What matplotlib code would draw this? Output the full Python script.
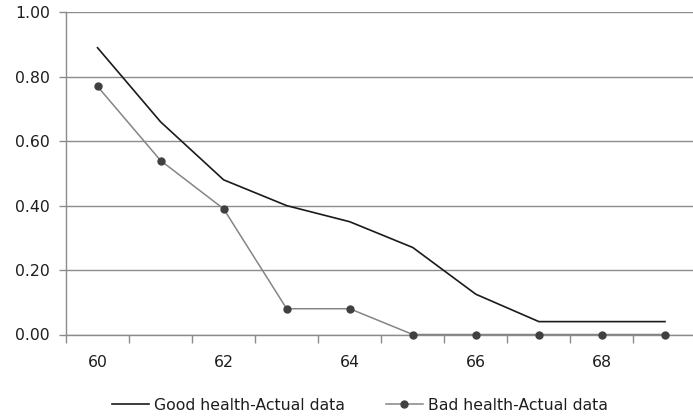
import matplotlib
matplotlib.use('Agg')
import matplotlib.pyplot as plt
from matplotlib.ticker import FixedLocator, FormatStrFormatter

ages = [60, 61, 62, 63, 64, 65, 66, 67, 68, 69]
good_health = [0.89, 0.66, 0.48, 0.40, 0.35, 0.27, 0.125, 0.04, 0.04, 0.04]
bad_health = [0.77, 0.54, 0.39, 0.08, 0.08, 0.0, 0.0, 0.0, 0.0, 0.0]
y_ticks = [0.0, 0.2, 0.4, 0.6, 0.8, 1.0]

plt.rcParams['font.family'] = ['DejaVu Sans']

fig = plt.figure(figsize=(6.93, 4.19), dpi=100)
ax = fig.add_axes([66 / 693, 1 - 334.5 / 419, 630.5 / 693, (334.5 - 12.3) / 419])

pos = list(range(len(ages)))
ax.plot(pos, good_health, color='#1a1a1a', lw=1.2, label='Good health-Actual data', zorder=3)
ax.plot(pos, bad_health, color='#858585', lw=1.1, marker='o', markersize=5,
        markerfacecolor='#404040', markeredgecolor='#404040',
        label='Bad health-Actual data', zorder=4, clip_on=False)

ax.set_xlim(-0.5, len(ages) - 0.5)
ax.set_ylim(0, 1)
ax.set_yticks(y_ticks)
ax.yaxis.set_major_formatter(FormatStrFormatter('%.2f'))
ax.grid(axis='y', color='#8c8c8c', lw=1)
ax.set_axisbelow(True)

fs = 11.3
ax.set_xticks(pos[::2])
ax.set_xticklabels([str(a) for a in ages[::2]])
ax.xaxis.set_minor_locator(FixedLocator([p - 0.5 for p in range(len(ages) + 1)]))
ax.tick_params(axis='x', which='major', length=0, pad=15, labelsize=fs, labelcolor='#1e1e1e')
ax.tick_params(axis='x', which='minor', length=6, width=1, color='#8c8c8c')
ax.tick_params(axis='y', length=5, width=1, color='#8c8c8c', labelsize=fs, labelcolor='#1e1e1e', pad=6.5)

for s in ['top', 'right']:
    ax.spines[s].set_visible(False)
for s in ['left', 'bottom']:
    ax.spines[s].set_color('#8c8c8c')
    ax.spines[s].set_linewidth(1)

fig.legend(loc='center', bbox_to_anchor=(0.519, 1 - 405 / 419), ncol=2, frameon=False,
           fontsize=fs, handlelength=2.4, columnspacing=2.6, handletextpad=0.3,
           labelcolor='#1e1e1e')

fig.savefig('out.png', dpi=100)
